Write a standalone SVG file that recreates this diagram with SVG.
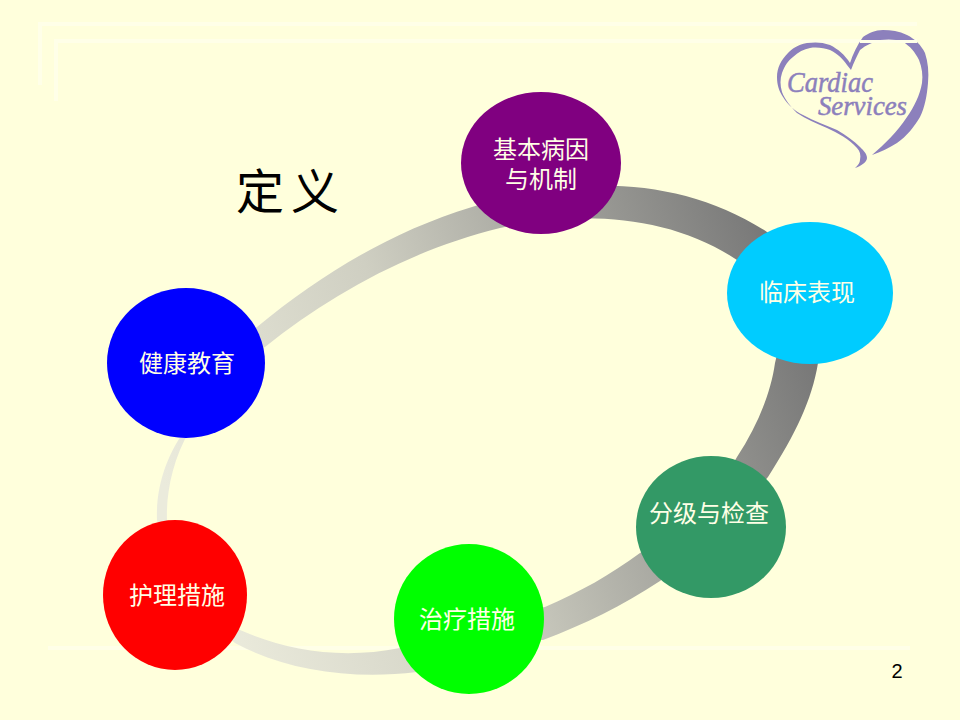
<svg xmlns="http://www.w3.org/2000/svg" width="960" height="720" viewBox="0 0 960 720">
<defs>
<linearGradient id="ringGrad" gradientUnits="userSpaceOnUse" x1="170" y1="500" x2="790" y2="270">
<stop offset="0" stop-color="#ebebdc"/>
<stop offset="0.4" stop-color="#cfcfc2"/>
<stop offset="0.7" stop-color="#a2a29c"/>
<stop offset="1" stop-color="#767676"/>
</linearGradient>
</defs>
<style>
.deco{fill:none;stroke:#ffffe8;stroke-width:4}
.label{font-family:"Liberation Serif","Noto Sans CJK SC",serif;font-size:24px;fill:#ffffe6;text-anchor:middle}
.logoText{font-family:"Liberation Serif",serif;font-style:italic;fill:#8c80bc;stroke:#8c80bc;stroke-width:.5}
</style>
<rect width="960" height="720" fill="#ffffdc"/>
<path class="deco" d="M40 85V24H917M56 101V41H917M48 648H910"/>
<g id="logo">
<path fill="#8c80bc" d="M850 63C845 55 838 49 830 45C822 42 815 42 807 43C797 45 792 49 788 53C781 60 777 68 777 77C777 85 779 91 783 97C788 105 795 111 803 115C814 121 826 125 837 130C846 135 854 141 860 147C864 151 867 154 867 158C867 162 861 166 855 168C858 165 860 163 860 160C861 155 860 151 857 148C849 139 838 133 827 128C816 123 806 119 797 113C791 107 785 100 782 92C780 85 780 79 782 73C785 65 788 61 793 57C798 52 804 49 810 48C817 47 824 48 830 50C838 54 843 59 847 65L851 70C854 62 857 56 860 50C866 45 873 42 880 40C888 39 896 39 903 42C910 46 915 52 919 60C922 68 923 75 922 83C920 95 914 107 907 117C897 132 885 144 872 155C881 152 889 148 897 143C907 136 914 127 920 117C925 107 927 95 928 83C929 72 928 62 925 53C921 45 915 39 907 35C899 31 891 30 883 30C875 30 869 33 863 37C857 45 853 54 850 63Z"/>
<text class="logoText" x="787" y="92" font-size="29" textLength="86" lengthAdjust="spacingAndGlyphs">Cardiac</text>
<text class="logoText" x="818" y="115" font-size="27" textLength="89" lengthAdjust="spacingAndGlyphs">Services</text>
<path d="M860 41.500H917" stroke="#ffffe8" stroke-width="3" fill="none"/>
</g>
<g id="connectors">
<path id="ring" fill="url(#ringGrad)" fill-rule="evenodd" d="M472 207C570 175 680 175 767 232L830 290L818 363C812 400 795 435 768 477L720 530L660 581C622 606 585 624 543 640L470 640L417 672C350 680 285 670 235 643L175 590L157 520C156 495 162 462 185 430L200 360L257 327C320 275 390 232 472 207ZM500 228C580 210 670 215 737 260L790 300L775 363C771 392 758 425 737 457L700 520L640 553C610 575 580 592 545 607L470 620L400 648C340 660 285 650 240 630L175 580L167 520C166 495 172 460 190 430L200 370L265 347C330 295 410 250 500 228Z"/>
</g>
<g id="n1"><ellipse cx="541" cy="163" rx="80" ry="71" fill="#800080"/><text class="label" x="541" y="158">基本病因</text><text class="label" x="541" y="188">与机制</text></g>
<g id="n2"><ellipse cx="810" cy="293" rx="83" ry="71" fill="#00ccff"/><text class="label" x="807" y="301">临床表现</text></g>
<g id="n3"><ellipse cx="711" cy="527" rx="75" ry="71" fill="#339966"/><text class="label" x="709" y="522">分级与检查</text></g>
<g id="n4"><ellipse cx="469" cy="619" rx="75" ry="75" fill="#00ff00"/><text class="label" x="467" y="628">治疗措施</text></g>
<g id="n5"><ellipse cx="175" cy="595" rx="72" ry="75" fill="#ff0000"/><text class="label" x="177" y="604">护理措施</text></g>
<g id="n6"><ellipse cx="186" cy="363" rx="79" ry="75" fill="#0000ff"/><text class="label" x="187" y="372">健康教育</text></g>
<text x="236" y="209" font-family="Liberation Serif,Noto Sans CJK SC,serif" font-size="48" letter-spacing="7" fill="#000">定义</text>
<text x="897" y="678" font-family="Liberation Sans,sans-serif" font-size="20" text-anchor="middle" fill="#000">2</text>
</svg>
